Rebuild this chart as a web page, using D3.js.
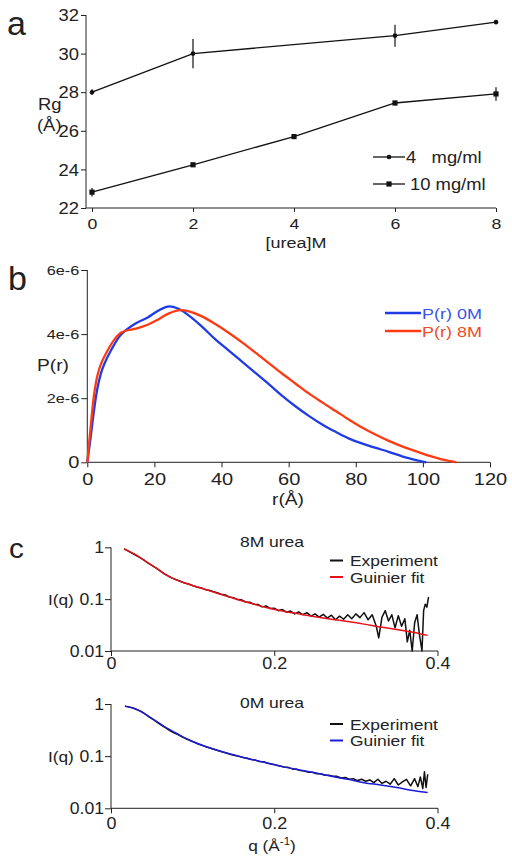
<!DOCTYPE html>
<html><head><meta charset="utf-8">
<script src="https://cdn.jsdelivr.net/npm/d3@7"></script>
<style>body{margin:0;background:#fff}svg{display:block;background:#fff}text{font-family:"Liberation Sans",Arial,sans-serif;fill:#222}</style>
</head><body><svg id="chart" width="512" height="865"></svg>
<script>
// ---------- Panel a data ----------
const urea4 = [0, 2, 6, 8];
const rg4 = [28.0, 30.0, 30.93, 31.63];
const err4 = [0.15, 0.76, 0.57, 0.05];
const urea10 = [0, 2, 4, 6, 8];
const rg10 = [22.82, 24.24, 25.70, 27.44, 27.91];
const err10 = [0.22, 0.05, 0.05, 0.12, 0.35];
const ureaTicks = [0, 2, 4, 6, 8];
const rgTicks = [22, 24, 26, 28, 30, 32];
const legendA = ["4   mg/ml", "10 mg/ml"];

// ---------- Panel b data (P(r), units of 1e-6) ----------
const r0M = [0, 1, 2, 3, 4, 5, 7, 10, 14, 18, 21, 24, 27, 30, 34, 38, 42, 46, 50, 54, 58, 62, 66, 70, 74, 78, 82, 86, 90, 94, 98, 101];
const p0M = [0, 0.78, 1.62, 2.3, 2.75, 3.05, 3.48, 3.98, 4.31, 4.52, 4.72, 4.86, 4.8, 4.6, 4.25, 3.85, 3.5, 3.15, 2.8, 2.45, 2.08, 1.75, 1.45, 1.18, 0.95, 0.74, 0.58, 0.45, 0.32, 0.18, 0.07, 0];
const r8M = [0, 1, 2, 3, 4, 6, 8, 10, 12, 14, 16, 18, 21, 24, 27, 30, 34, 38, 42, 46, 50, 54, 58, 62, 66, 70, 74, 78, 82, 86, 90, 94, 98, 102, 106, 110];
const p8M = [0, 1.1, 2.1, 2.7, 3.05, 3.48, 3.82, 4.04, 4.12, 4.16, 4.22, 4.29, 4.45, 4.63, 4.74, 4.72, 4.56, 4.32, 4.05, 3.75, 3.43, 3.1, 2.77, 2.46, 2.15, 1.87, 1.6, 1.33, 1.08, 0.86, 0.66, 0.49, 0.34, 0.2, 0.08, 0];
const rTicks = [0, 20, 40, 60, 80, 100, 120];
const pTicks = [0, 2e-6, 4e-6, 6e-6];
const legendB = ["P(r) 0M", "P(r) 8M"];

// ---------- Panel c data ----------
const qExp8 = [0.016,0.02,0.025,0.03,0.035,0.04,0.045,0.05,0.055,0.06,0.065,0.07,0.075,0.08,0.085,0.09,0.095,0.1,0.105,0.11,0.115,0.12,0.125,0.13,0.135,0.14,0.145,0.15,0.155,0.16,0.165,0.17,0.175,0.18,0.185,0.19,0.195,0.2,0.205,0.21,0.215,0.22,0.225,0.23,0.235,0.24,0.245,0.25,0.255,0.26,0.265,0.27,0.275,0.28,0.285,0.29,0.295,0.3,0.305,0.31,0.315,0.32,0.325,0.328,0.332,0.336,0.34,0.344,0.348,0.352,0.356,0.36,0.363,0.366,0.369,0.372,0.375,0.378,0.381,0.383,0.385,0.387,0.389];
const iExp8 = [0.93,0.86,0.78,0.71,0.64,0.57,0.5,0.45,0.4,0.355,0.31,0.28,0.255,0.237,0.222,0.205,0.196,0.183,0.172,0.166,0.154,0.149,0.14,0.133,0.124,0.12,0.11,0.107,0.098,0.097,0.088,0.087,0.08,0.079,0.071,0.074,0.066,0.067,0.06,0.063,0.056,0.059,0.052,0.057,0.05,0.055,0.047,0.052,0.045,0.051,0.043,0.049,0.04,0.047,0.041,0.05,0.042,0.052,0.044,0.055,0.04,0.05,0.03,0.018,0.045,0.06,0.038,0.05,0.028,0.048,0.03,0.042,0.015,0.025,0.009,0.035,0.05,0.02,0.009,0.06,0.08,0.07,0.11];
const qFit8 = [0.016,0.03,0.04,0.055,0.068,0.08,0.097,0.115,0.13,0.15,0.171,0.19,0.21,0.23,0.25,0.27,0.29,0.31,0.33,0.35,0.37,0.388];
const iFit8 = [0.93,0.72,0.57,0.40,0.29,0.235,0.19,0.155,0.13,0.104,0.083,0.069,0.059,0.052,0.046,0.041,0.037,0.033,0.029,0.026,0.023,0.020];
const qExp0 = [0.017,0.022,0.027,0.032,0.037,0.042,0.047,0.052,0.057,0.062,0.067,0.072,0.077,0.082,0.087,0.092,0.097,0.102,0.107,0.112,0.117,0.122,0.127,0.132,0.137,0.142,0.147,0.152,0.157,0.162,0.167,0.172,0.177,0.182,0.187,0.192,0.197,0.202,0.207,0.212,0.217,0.222,0.227,0.232,0.237,0.242,0.247,0.252,0.257,0.262,0.267,0.272,0.277,0.282,0.287,0.292,0.297,0.302,0.307,0.312,0.317,0.322,0.327,0.332,0.337,0.342,0.347,0.352,0.357,0.362,0.367,0.372,0.376,0.379,0.382,0.384,0.386,0.388];
const iExp0 = [0.91,0.88,0.84,0.78,0.72,0.64,0.56,0.5,0.44,0.39,0.35,0.31,0.28,0.26,0.235,0.215,0.2,0.186,0.17,0.161,0.15,0.142,0.134,0.127,0.12,0.114,0.108,0.103,0.099,0.094,0.091,0.086,0.084,0.079,0.078,0.073,0.071,0.068,0.065,0.062,0.061,0.057,0.056,0.053,0.052,0.049,0.049,0.046,0.046,0.043,0.043,0.041,0.041,0.038,0.039,0.036,0.037,0.034,0.036,0.033,0.035,0.031,0.036,0.03,0.033,0.029,0.037,0.028,0.032,0.036,0.027,0.037,0.026,0.04,0.024,0.05,0.025,0.045];
const qFit0 = [0.017,0.03,0.04,0.05,0.06,0.068,0.08,0.097,0.115,0.13,0.15,0.171,0.19,0.21,0.23,0.25,0.27,0.29,0.31,0.33,0.35,0.37,0.388];
const iFit0 = [0.91,0.80,0.67,0.53,0.42,0.35,0.275,0.20,0.155,0.13,0.106,0.087,0.075,0.063,0.055,0.048,0.041,0.036,0.031,0.028,0.025,0.022,0.020];
const qTicks = [0, 0.2, 0.4];
const iTicks = [0.01, 0.1, 1];
const legendC = ["Experiment", "Guinier fit"];

// ---------- helpers ----------
const svg = d3.select("#chart");
const INK = "#222";
function T(g, x, y, s, size, o = {}) {
  const t = g.append("text")
    .attr("transform", `translate(${x},${y}) scale(${o.sx || 1.18},1)`)
    .attr("font-size", size)
    .attr("text-anchor", o.anchor || "start")
    .text(s);
  if (o.fill) t.style("fill", o.fill);
  if (o.pre) t.style("white-space", "pre");
  return t;
}
function fixAxis(g, sx, fs) {
  g.attr("color", INK).attr("font-family", null).attr("font-size", null);
  g.select(".domain").remove();
  g.selectAll(".tick line").attr("stroke-width", 1);
  g.selectAll(".tick text").attr("font-size", fs)
    .attr("transform", `scale(${sx},1)`)
    .each(function () { const x = this.getAttribute("x"); if (x !== null) this.setAttribute("x", +x / sx); });
}
function hline(g, x1, x2, y) { g.append("line").attr("x1", x1).attr("x2", x2).attr("y1", y).attr("y2", y).attr("stroke", INK).attr("stroke-width", 1); }
function vline(g, x, y1, y2) { g.append("line").attr("x1", x).attr("x2", x).attr("y1", y1).attr("y2", y2).attr("stroke", INK).attr("stroke-width", 1); }

// ---------- Panel a ----------
{
  const g = svg.append("g");
  const x = d3.scaleLinear().domain([0, 8]).range([92, 496]);
  const y = d3.scaleLinear().domain([22, 32]).range([208, 15]);
  const ax = g.append("g").attr("transform", "translate(0,208)")
    .call(d3.axisBottom(x).tickValues(ureaTicks).tickSize(4).tickPadding(6).tickFormat(d3.format("d")));
  fixAxis(ax, 1.18, 15);
  const ay = g.append("g").attr("transform", "translate(86,0)")
    .call(d3.axisLeft(y).tickValues(rgTicks).tickSize(5).tickPadding(2).tickFormat(d3.format("d")));
  fixAxis(ay, 1.15, 16);
  ay.selectAll(".tick text").attr("dy", "0.36em");
  vline(g, 86, 15, 208); hline(g, 86, 496, 208);

  const line = d3.line().x(d => x(d[0])).y(d => y(d[1]));
  const s4 = urea4.map((u, i) => [u, rg4[i], err4[i]]);
  const s10 = urea10.map((u, i) => [u, rg10[i], err10[i]]);
  [s4, s10].forEach((s, k) => {
    g.append("path").datum(s).attr("d", line).attr("fill", "none").attr("stroke", "#111").attr("stroke-width", 1.3);
    g.selectAll(null).data(s).enter().append("line")
      .attr("x1", d => x(d[0])).attr("x2", d => x(d[0]))
      .attr("y1", d => y(d[1] - d[2])).attr("y2", d => y(d[1] + d[2]))
      .attr("stroke", "#111").attr("stroke-width", 1.2);
    if (k === 0) g.selectAll(null).data(s).enter().append("circle").attr("cx", d => x(d[0])).attr("cy", d => y(d[1])).attr("r", 2.3).attr("fill", "#111");
    else g.selectAll(null).data(s).enter().append("rect").attr("x", d => x(d[0]) - 2.6).attr("y", d => y(d[1]) - 2.6).attr("width", 5.2).attr("height", 5.2).attr("fill", "#111");
  });
  // legend
  [157, 184].forEach((ly, k) => {
    g.append("line").attr("x1", 373).attr("x2", 405).attr("y1", ly).attr("y2", ly).attr("stroke", "#111").attr("stroke-width", 1.3);
    if (k === 0) g.append("circle").attr("cx", 389).attr("cy", ly).attr("r", 2.3).attr("fill", "#111");
    else g.append("rect").attr("x", 386.4).attr("y", ly - 2.6).attr("width", 5.2).attr("height", 5.2).attr("fill", "#111");
    T(g, k === 0 ? 406 : 410, ly + 6, legendA[k], 16, { sx: 1.15, pre: true });
  });
  T(g, 7, 35, "a", 34, { sx: 1.0 });
  T(g, 38, 110, "Rg", 16, { sx: 1.15 });
  T(g, 37, 131, "(Å)", 16, { sx: 1.15 });
  T(g, 296, 248, "[urea]M", 15, { sx: 1.2, anchor: "middle" });
}

// ---------- Panel b ----------
{
  const g = svg.append("g");
  const x = d3.scaleLinear().domain([0, 120]).range([87.3, 490]);
  const y = d3.scaleLinear().domain([0, 6e-6]).range([462.3, 270]);
  const ax = g.append("g").attr("transform", "translate(0,462.3)")
    .call(d3.axisBottom(x).tickValues(rTicks).tickSize(5).tickPadding(6).tickFormat(d3.format("d")));
  fixAxis(ax, 1.25, 16);
  const ay = g.append("g").attr("transform", "translate(87.3,0)")
    .call(d3.axisLeft(y).tickValues(pTicks).tickSize(6).tickPadding(2)
      .tickFormat(d => d === 0 ? "0" : Math.round(d * 1e6) + "e-6"));
  fixAxis(ay, 1.25, 13);
  ay.selectAll(".tick text").filter(d => d === 0).attr("font-size", 16);
  vline(g, 87.3, 270, 462.3); hline(g, 87.3, 490, 462.3);

  const line = d3.line().x(d => x(d[0])).y(d => y(d[1] * 1e-6)).curve(d3.curveCatmullRom.alpha(0.5));
  const C0 = "#1f3be6", C8 = "#ff3a12";
  g.append("path").datum(r0M.map((r, i) => [r, p0M[i]])).attr("d", line).attr("fill", "none").attr("stroke", C0).attr("stroke-width", 2.3);
  g.append("path").datum(r8M.map((r, i) => [r, p8M[i]])).attr("d", line).attr("fill", "none").attr("stroke", C8).attr("stroke-width", 2.3);
  [[313, C0, "#3a55e6"], [331, C8, "#f24a28"]].forEach(([ly, c, tc], k) => {
    g.append("line").attr("x1", 385).attr("x2", 421).attr("y1", ly).attr("y2", ly).attr("stroke", c).attr("stroke-width", 2.3);
    T(g, 422, ly + 5.5, legendB[k], 14.5, { sx: 1.24, fill: tc });
  });
  T(g, 8, 290, "b", 34, { sx: 1.0 });
  T(g, 37, 371, "P(r)", 16, { sx: 1.2 });
  T(g, 288, 505, "r(Å)", 16, { sx: 1.2, anchor: "middle" });
}

// ---------- Panel c ----------
function panelC(top, bottom, qE, iE, qF, iF, fitColor, title, titleY, legY, iqY, xPad) {
  const g = svg.append("g");
  const x = d3.scaleLinear().domain([0, 0.4]).range([111, 437.5]);
  const y = d3.scaleLog().domain([0.01, 1]).range([bottom, top]).clamp(true);
  const ax = g.append("g").attr("transform", `translate(0,${bottom})`)
    .call(d3.axisBottom(x).tickValues(qTicks).tickSize(5).tickPadding(xPad).tickFormat(d => d === 0 ? "0" : d.toFixed(1)));
  fixAxis(ax, 1.12, 16);
  const ay = g.append("g").attr("transform", "translate(111,0)")
    .call(d3.axisLeft(y).tickValues(iTicks).tickSize(6).tickPadding(1).tickFormat(d => String(d)));
  fixAxis(ay, 1.1, 16);
  vline(g, 111, top, bottom); hline(g, 111, 438, bottom);
  const line = d3.line().x(d => x(d[0])).y(d => y(d[1]));
  g.append("path").datum(qE.map((q, i) => [q, iE[i]])).attr("d", line).attr("fill", "none").attr("stroke", "#111").attr("stroke-width", 1.5).attr("stroke-linejoin", "round");
  g.append("path").datum(qF.map((q, i) => [q, iF[i]])).attr("d", line.curve(d3.curveCatmullRom.alpha(0.5))).attr("fill", "none").attr("stroke", fitColor).attr("stroke-width", 1.5);
  [["#111", legY], [fitColor, legY + 16.5]].forEach(([c, ly], k) => {
    g.append("line").attr("x1", 330).attr("x2", 343).attr("y1", ly).attr("y2", ly).attr("stroke", c).attr("stroke-width", 2);
    T(g, 350, ly + 5.5, legendC[k], 15, { sx: 1.16 });
  });
  T(g, 272, titleY, title, 14, { sx: 1.25, anchor: "middle" });
  T(g, 48, iqY, "I(q)", 15, { sx: 1.15 });
  return g;
}
panelC(547.3, 651, qExp8, iExp8, qFit8, iFit8, "#e8101a", "8M urea", 547, 560.5, 605, 2);
const gc2 = panelC(704, 808.3, qExp0, iExp0, qFit0, iFit0, "#1c1cd8", "0M urea", 708, 724, 762, 4);
T(svg, 9, 558, "c", 27, { sx: 1.1 });
{
  const t = T(gc2, 272, 851, "q (Å", 15, { sx: 1.15, anchor: "middle" });
  t.append("tspan").attr("font-size", 10).attr("dy", -6).text("-1");
  t.append("tspan").attr("dy", 6).text(")");
}
</script></body></html>
